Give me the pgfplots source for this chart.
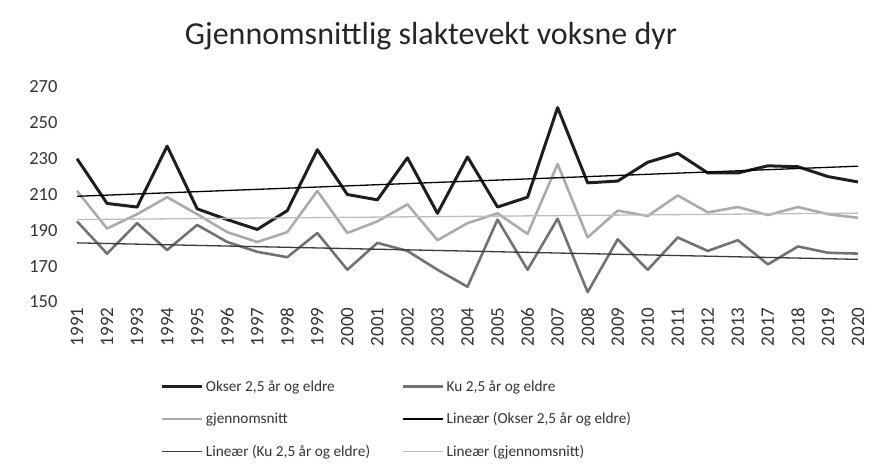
\documentclass[border=0pt]{standalone}
\usepackage{fontspec}
\setmainfont{Carlito}
\usepackage{pgfplots}
\usepackage{pgfplotstable}
\pgfplotsset{compat=1.18}
\definecolor{okser}{HTML}{1E1E1E}
\definecolor{ku}{HTML}{727272}
\definecolor{snitt}{HTML}{ABABAB}
\definecolor{trendku}{HTML}{3A3A3A}
\definecolor{trendsnitt}{HTML}{BDBDBD}

% idx year okser ku snitt
\pgfplotstableread{
idx year okser ku snitt
0  1991 230   195   212
1  1992 205   177   191
2  1993 203   194   199
3  1994 237   179   208.5
4  1995 202   193   199
5  1996 196   183.5 189
6  1997 190.5 178   183.5
7  1998 201   175   189
8  1999 235   188.5 212
9  2000 210   168   188.5
10 2001 207   183   195
11 2002 230.5 178.5 204.5
12 2003 199.5 168   184.5
13 2004 231   158.5 194
14 2005 203   196   199.5
15 2006 208.5 168   188
16 2007 258.5 196.5 227
17 2008 216.5 155.5 186
18 2009 217.5 185   201
19 2010 228   168   198
20 2011 233   186   209.5
21 2012 222   178.5 200
22 2013 222   184.5 203
23 2017 226   171   198.5
24 2018 225.5 181   203
25 2019 220   177.5 199
26 2020 217   177   197
}\slakt

\begin{document}
\begin{tikzpicture}[x=1pt,y=1pt]
\useasboundingbox (0,0) rectangle (870,465);
\node[font=\fontsize{32}{36}\selectfont, text=black!85] at (431,429) {Gjennomsnittlig slaktevekt voksne dyr};
\begin{axis}[
  at={(62pt,163pt)}, anchor=south west,
  scale only axis,
  width=811pt, height=215pt,
  xmin=-0.5, xmax=26.5,
  ymin=150, ymax=270,
  ytick={150,170,...,270},
  xtick=data,
  xticklabels from table={\slakt}{year},
  axis line style={draw=none},
  major tick style={draw=none},
  /pgf/number format/assume math mode=true,
  yticklabel style={font=\fontsize{18.5}{20}\selectfont, text=black!80, xshift=-1pt},
  xticklabel style={font=\fontsize{19}{20}\selectfont, text=black!80, rotate=90, anchor=east, xshift=-2pt},
  legend columns=2,
  legend cell align=left,
  legend style={at={(0.118,-0.345)}, anchor=north west, draw=none, fill=none,
    font=\fontsize{15.3}{17}\selectfont, text=black!80,
    /tikz/every even column/.append style={column sep=30pt},
    row sep=16pt},
  legend image code/.code={\draw[#1] (0pt,0pt) -- (40pt,0pt);},
]
\addplot[okser, line width=3pt, line join=round] table[x=idx, y=okser] {\slakt};
\addlegendentry{Okser 2,5 år og eldre}
\addplot[ku, line width=2.6pt, line join=round] table[x=idx, y=ku] {\slakt};
\addlegendentry{Ku 2,5 år og eldre}
\addplot[snitt, line width=2.6pt, line join=round] table[x=idx, y=snitt] {\slakt};
\addlegendentry{gjennomsnitt}
\addplot[black, line width=1.3pt] coordinates {(0,209) (26,225.8)};
\addlegendentry{Lineær (Okser 2,5 år og eldre)}
\addplot[trendku, line width=1.3pt] coordinates {(0,183) (26,173.8)};
\addlegendentry{Lineær (Ku 2,5 år og eldre)}
\addplot[trendsnitt, line width=1.3pt] coordinates {(0,196) (26,199.6)};
\addlegendentry{Lineær (gjennomsnitt)}
\end{axis}
\end{tikzpicture}
\end{document}
